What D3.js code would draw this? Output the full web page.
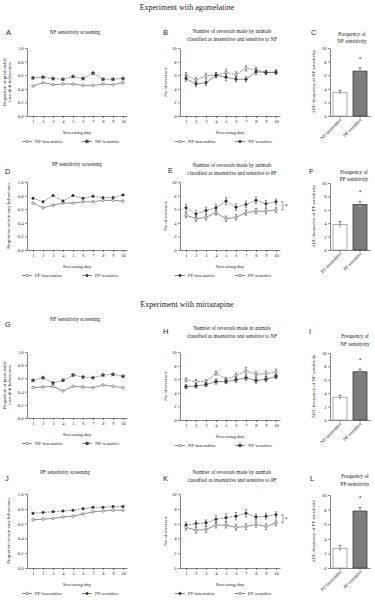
<!DOCTYPE html>
<html>
<head>
<meta charset="utf-8">
<script src="https://cdn.jsdelivr.net/npm/d3@7"></script>
<style>
  body { margin: 0; background: #fff; }
  text { font-family: "Liberation Serif", "DejaVu Serif", serif; fill: #222; }
  .letter { font-family: "Liberation Sans", Arial, sans-serif; font-size: 7.5px; }
  .axis path, .axis line { stroke: #333; stroke-width: 0.6; }
  .axis text { font-size: 4.6px; }
</style>
</head>
<body>
<div id="chart"></div>
<script>
// ---- data ----
const days = [1, 2, 3, 4, 5, 6, 7, 8, 9, 10];

// agomelatine
const agoNfScrInsens = [0.44, 0.49, 0.46, 0.47, 0.47, 0.45, 0.45, 0.47, 0.46, 0.49];
const agoNfScrSens   = [0.56, 0.57, 0.55, 0.54, 0.58, 0.55, 0.63, 0.54, 0.54, 0.55];
const agoNfRevInsens    = [6.0, 5.3, 5.9, 6.0, 6.4, 6.1, 7.0, 6.8, 6.4, 6.5];
const agoNfRevInsensErr = [0.4, 0.4, 0.4, 0.4, 0.5, 0.4, 0.4, 0.4, 0.3, 0.3];
const agoNfRevSens      = [5.5, 4.7, 4.9, 6.0, 5.7, 5.4, 5.4, 6.5, 6.4, 6.4];
const agoNfRevSensErr   = [0.4, 0.4, 0.4, 0.3, 0.5, 0.4, 0.4, 0.4, 0.3, 0.3];
const agoNfAuc    = [3.5, 6.6];
const agoNfAucErr = [0.3, 0.5];

const agoPfScrInsens = [0.69, 0.62, 0.66, 0.69, 0.69, 0.71, 0.71, 0.73, 0.73, 0.72];
const agoPfScrSens   = [0.76, 0.71, 0.80, 0.72, 0.80, 0.76, 0.79, 0.77, 0.77, 0.81];
const agoPfRevInsens    = [6.2, 5.3, 5.8, 6.2, 7.2, 6.3, 6.7, 7.3, 6.8, 7.1];
const agoPfRevInsensErr = [0.5, 0.5, 0.5, 0.5, 0.5, 0.5, 0.5, 0.5, 0.5, 0.4];
const agoPfRevSens      = [5.1, 4.6, 4.8, 5.5, 4.6, 4.8, 5.5, 5.7, 5.7, 5.9];
const agoPfRevSensErr   = [0.4, 0.4, 0.4, 0.4, 0.4, 0.4, 0.4, 0.4, 0.4, 0.4];
const agoPfAuc    = [3.8, 6.8];
const agoPfAucErr = [0.45, 0.45];

// mirtazapine
const mirNfScrInsens = [0.46, 0.47, 0.48, 0.41, 0.48, 0.47, 0.46, 0.50, 0.48, 0.46];
const mirNfScrSens   = [0.57, 0.61, 0.53, 0.57, 0.65, 0.62, 0.61, 0.65, 0.66, 0.63];
const mirNfRevInsens    = [5.9, 5.65, 5.65, 6.9, 6.0, 6.5, 7.25, 6.7, 6.8, 7.1];
const mirNfRevInsensErr = [0.3, 0.3, 0.3, 0.3, 0.3, 0.4, 0.5, 0.4, 0.4, 0.4];
const mirNfRevSens      = [4.9, 5.0, 5.2, 5.65, 5.65, 5.9, 6.2, 5.8, 6.0, 6.4];
const mirNfRevSensErr   = [0.3, 0.3, 0.3, 0.4, 0.3, 0.4, 0.4, 0.4, 0.4, 0.3];
const mirNfAuc    = [3.4, 7.2];
const mirNfAucErr = [0.3, 0.4];

const mirPfScrInsens = [0.65, 0.66, 0.67, 0.69, 0.70, 0.73, 0.76, 0.77, 0.78, 0.78];
const mirPfScrSens   = [0.74, 0.75, 0.76, 0.77, 0.78, 0.80, 0.82, 0.82, 0.83, 0.83];
const mirPfRevInsens    = [5.8, 6.0, 6.1, 6.6, 6.8, 7.0, 7.4, 6.9, 7.0, 7.2];
const mirPfRevInsensErr = [0.4, 0.4, 0.4, 0.5, 0.5, 0.5, 0.5, 0.4, 0.4, 0.4];
const mirPfRevSens      = [5.5, 5.1, 5.2, 5.8, 5.8, 5.5, 5.6, 5.9, 5.6, 6.1];
const mirPfRevSensErr   = [0.4, 0.4, 0.4, 0.4, 0.4, 0.4, 0.4, 0.4, 0.4, 0.4];
const mirPfAuc    = [2.7, 7.8];
const mirPfAucErr = [0.4, 0.5];

const propTicks = [0, 0.2, 0.4, 0.6, 0.8, 1.0];
const revTicks = [0, 2, 4, 6, 8, 10];

// ---- svg ----
const svg = d3.select("#chart").append("svg")
    .attr("width", 375)
    .attr("height", 600);

const ink = "#333";

function styleAxis(sel) {
    sel.attr("class", "axis");
    sel.selectAll("text").attr("fill", "#222");
}

function addText(x, y, str, size, anchor, cls) {
    return svg.append("text")
        .attr("class", cls || null)
        .attr("x", x).attr("y", y)
        .attr("font-size", size)
        .attr("text-anchor", anchor || "middle")
        .text(str);
}

function marker(kind) {
    const types = {open: d3.symbolCircle, dot: d3.symbolCircle, star: d3.symbolStar, cross: d3.symbolCross};
    return d3.symbol().type(types[kind]).size(kind === "star" ? 5 : 5)();
}

// line panel (screening / reversals)
function linePanel(p) {
    const x = d3.scaleLinear().domain([0.4, 10.4]).range([p.left, p.left + 100]);
    const y = d3.scaleLinear().domain([0, p.yMax]).range([p.bottom, p.top]);

    svg.append("g")
        .attr("transform", "translate(0," + p.bottom + ")")
        .call(d3.axisBottom(x).tickValues(days).tickSize(2).tickSizeOuter(0).tickPadding(2))
        .call(styleAxis);
    svg.append("g")
        .attr("transform", "translate(" + p.left + ",0)")
        .call(d3.axisLeft(y).tickValues(p.yTicks).tickFormat(p.fmt).tickSize(2).tickSizeOuter(0).tickPadding(1.5))
        .call(styleAxis);

    addText(p.left + 50, p.bottom + 18, "Screening day", 5);

    // y title
    p.yLabel.forEach((t, i) => {
        svg.append("text")
            .attr("transform", "translate(" + (p.yLabelX + i * 5) + "," + (p.top + p.bottom) / 2 + ") rotate(-90)")
            .attr("font-size", 4.8)
            .attr("text-anchor", "middle")
            .text(t);
    });

    const line = d3.line().x((d, i) => x(days[i])).y(d => y(d));

    p.series.forEach(s => {
        const g = svg.append("g");
        if (s.err) {
            s.values.forEach((v, i) => {
                const cx = x(days[i]);
                g.append("line")
                    .attr("x1", cx).attr("x2", cx)
                    .attr("y1", y(v - s.err[i])).attr("y2", y(v + s.err[i]))
                    .attr("stroke", ink).attr("stroke-width", 0.5);
                [v - s.err[i], v + s.err[i]].forEach(e => {
                    g.append("line")
                        .attr("x1", cx - 1.2).attr("x2", cx + 1.2)
                        .attr("y1", y(e)).attr("y2", y(e))
                        .attr("stroke", ink).attr("stroke-width", 0.5);
                });
            });
        }
        g.append("path")
            .datum(s.values)
            .attr("d", line)
            .attr("fill", "none")
            .attr("stroke", ink)
            .attr("stroke-width", 0.55)
            .attr("stroke-dasharray", s.dash || null);
        g.selectAll(".pt")
            .data(s.values)
            .enter().append("path")
            .attr("transform", (d, i) => "translate(" + x(days[i]) + "," + y(d) + ")")
            .attr("d", marker(s.kind))
            .attr("fill", s.kind === "open" ? "#fff" : ink)
            .attr("stroke", ink)
            .attr("stroke-width", 0.5);
    });

    // legend
    p.series.forEach((s, i) => {
        const lx = p.left - 5 + i * 60;
        const ly = p.bottom + 27;
        svg.append("line")
            .attr("x1", lx).attr("x2", lx + 10)
            .attr("y1", ly - 1.5).attr("y2", ly - 1.5)
            .attr("stroke", ink).attr("stroke-width", 0.6);
        svg.append("path")
            .attr("transform", "translate(" + (lx + 5) + "," + (ly - 1.5) + ")")
            .attr("d", marker(s.kind))
            .attr("fill", s.kind === "open" ? "#fff" : ink)
            .attr("stroke", ink).attr("stroke-width", 0.5);
        addText(lx + 13, ly, s.name, 4.8, "start");
    });

    // significance bracket
    if (p.bracket) {
        const bx = x(10) + 7;
        const y1 = y(p.series[0].values[9]), y2 = y(p.series[1].values[9]);
        svg.append("path")
            .attr("d", "M" + (bx - 2) + "," + y1 + "H" + bx + "V" + y2 + "H" + (bx - 2))
            .attr("fill", "none").attr("stroke", ink).attr("stroke-width", 0.5);
        addText(bx + 3, (y1 + y2) / 2 + 2, "*", 5.5, "middle");
    }
}

// bar panel (AUC frequency)
function barPanel(p) {
    const x = d3.scaleBand().domain(p.cats).range([p.left, p.left + 40]).paddingInner(0.3).paddingOuter(0.15);
    const y = d3.scaleLinear().domain([0, 10]).range([p.bottom, p.top]);

    svg.append("g")
        .attr("transform", "translate(0," + p.bottom + ")")
        .call(d3.axisBottom(x).tickSize(2).tickSizeOuter(0).tickFormat(""))
        .call(styleAxis);
    svg.append("g")
        .attr("transform", "translate(" + p.left + ",0)")
        .call(d3.axisLeft(y).tickValues(revTicks).tickSize(2).tickSizeOuter(0).tickPadding(1.5))
        .call(styleAxis);

    svg.append("text")
        .attr("transform", "translate(" + (p.left - 15) + "," + (p.top + p.bottom) / 2 + ") rotate(-90)")
        .attr("font-size", 4.8)
        .attr("text-anchor", "middle")
        .text(p.yLabel);

    const fills = ["#fff", "#7b7b7b"];
    const strokes = ["#9a9a9a", "#3a3a3a"];
    p.values.forEach((v, i) => {
        const c = p.cats[i];
        const cx = x(c) + x.bandwidth() / 2;
        svg.append("line")
            .attr("x1", cx).attr("x2", cx)
            .attr("y1", y(v + p.err[i])).attr("y2", y(v))
            .attr("stroke", ink).attr("stroke-width", 0.6);
        svg.append("line")
            .attr("x1", cx - 1.5).attr("x2", cx + 1.5)
            .attr("y1", y(v + p.err[i])).attr("y2", y(v + p.err[i]))
            .attr("stroke", ink).attr("stroke-width", 0.6);
        svg.append("rect")
            .attr("x", x(c)).attr("y", y(v))
            .attr("width", x.bandwidth()).attr("height", p.bottom - y(v))
            .attr("fill", fills[i]).attr("stroke", strokes[i]).attr("stroke-width", 0.8);
        svg.append("line")
            .attr("x1", cx).attr("x2", cx)
            .attr("y1", y(v)).attr("y2", y(v - p.err[i]))
            .attr("stroke", i ? "#ccc" : ink).attr("stroke-width", 0.6);
        svg.append("text")
            .attr("transform", "translate(" + (cx + 2) + "," + (p.bottom + 4) + ") rotate(-45)")
            .attr("font-size", 4.8)
            .attr("text-anchor", "end")
            .text(c);
    });
    const sx = x(p.cats[1]) + x.bandwidth() / 2;
    addText(sx, y(p.values[1] + p.err[1]) - 7, "*", 5.5);
}

// ---- Experiment with agomelatine ----
addText(187, 10, "Experiment with agomelatine", 8);

// row 1
addText(6, 35, "A", 7.5, "start", "letter");
addText(75, 34, "NF sensitivity screening", 5.2);
linePanel({
    left: 27, top: 48, bottom: 116, yMax: 1, yTicks: propTicks, fmt: d3.format(".1f"),
    yLabel: ["Proportion of predictable", "loss-shift behaviours"], yLabelX: 6,
    series: [
        {name: "NF-insensitive", values: agoNfScrInsens, kind: "open"},
        {name: "NF-sensitive", values: agoNfScrSens, kind: "star", dash: "2,1"}
    ]
});

addText(163, 35, "B", 7.5, "start", "letter");
addText(232, 33, "Number of reversals made by animals", 5.2);
addText(232, 41, "classified as insensitive and sensitive to NF", 5.2);
linePanel({
    left: 180, top: 48, bottom: 116, yMax: 10, yTicks: revTicks, fmt: d3.format("d"),
    yLabel: ["No of reversals"], yLabelX: 167,
    series: [
        {name: "NF-insensitive", values: agoNfRevInsens, err: agoNfRevInsensErr, kind: "open", dash: "2,1"},
        {name: "NF-sensitive", values: agoNfRevSens, err: agoNfRevSensErr, kind: "dot"}
    ]
});

addText(311, 35, "C", 7.5, "start", "letter");
addText(352, 36, "Frequency of", 5.2);
addText(352, 43, "NF sensitivity", 5.2);
barPanel({
    left: 330, top: 48, bottom: 116, cats: ["NF-insensitive", "NF-sensitive"],
    values: agoNfAuc, err: agoNfAucErr, yLabel: "AUC frequency of NF sensitivity"
});

// row 2
addText(5, 174, "D", 7.5, "start", "letter");
addText(77, 166, "PF sensitivity screening", 5.2);
linePanel({
    left: 27, top: 182, bottom: 250, yMax: 1, yTicks: propTicks, fmt: d3.format(".1f"),
    yLabel: ["Proportion of win-stay behaviours"], yLabelX: 10,
    series: [
        {name: "PF-insensitive", values: agoPfScrInsens, kind: "open"},
        {name: "PF-sensitive", values: agoPfScrSens, kind: "dot", dash: "2,1"}
    ]
});

addText(168, 173, "E", 7.5, "start", "letter");
addText(232, 167, "Number of reversals made by animals", 5.2);
addText(232, 175, "classified as insensitive and sensitive to PF", 5.2);
linePanel({
    left: 180, top: 182, bottom: 250, yMax: 10, yTicks: revTicks, fmt: d3.format("d"),
    yLabel: ["No of reversals"], yLabelX: 167, bracket: true,
    series: [
        {name: "PF-insensitive", values: agoPfRevInsens, err: agoPfRevInsensErr, kind: "dot", dash: "2,1"},
        {name: "PF-sensitive", values: agoPfRevSens, err: agoPfRevSensErr, kind: "open"}
    ]
});

addText(309, 174, "F", 7.5, "start", "letter");
addText(354, 174, "Frequency of", 5.2);
addText(354, 181, "PF sensitivity", 5.2);
barPanel({
    left: 330, top: 183, bottom: 250, cats: ["PF-insensitive", "PF-sensitive"],
    values: agoPfAuc, err: agoPfAucErr, yLabel: "AUC frequency of PF sensitivity"
});

// ---- Experiment with mirtazapine ----
addText(187, 307, "Experiment with mirtazapine", 8);

// row 3
addText(5, 327, "G", 7.5, "start", "letter");
addText(75, 321, "NF sensitivity screening", 5.2);
linePanel({
    left: 27, top: 352, bottom: 418, yMax: 1, yTicks: propTicks, fmt: d3.format(".1f"),
    yLabel: ["Proportion of predictable", "loss-shift behaviours"], yLabelX: 6,
    series: [
        {name: "NF-insensitive", values: mirNfScrInsens, kind: "open"},
        {name: "NF-sensitive", values: mirNfScrSens, kind: "star", dash: "2,1"}
    ]
});

addText(163, 334, "H", 7.5, "start", "letter");
addText(232, 330, "Number of reversals made in animals", 5.2);
addText(232, 338, "classified as insensitive and sensitive to NF", 5.2);
linePanel({
    left: 180, top: 352, bottom: 420, yMax: 10, yTicks: revTicks, fmt: d3.format("d"),
    yLabel: ["No of reversals"], yLabelX: 167,
    series: [
        {name: "NF-insensitive", values: mirNfRevInsens, err: mirNfRevInsensErr, kind: "open", dash: "2,1"},
        {name: "NF-sensitive", values: mirNfRevSens, err: mirNfRevSensErr, kind: "star"}
    ]
});

addText(309, 334, "I", 7.5, "start", "letter");
addText(355, 338, "Frequency of", 5.2);
addText(355, 346, "NF sensitivity", 5.2);
barPanel({
    left: 330, top: 353, bottom: 420, cats: ["NF-insensitive", "NF-sensitive"],
    values: mirNfAuc, err: mirNfAucErr, yLabel: "AUC frequency of NF sensitivity"
});

// row 4
addText(5, 481, "J", 7.5, "start", "letter");
addText(65, 474, "PF sensitivity screening", 5.2);
linePanel({
    left: 27, top: 494, bottom: 568, yMax: 1, yTicks: propTicks, fmt: d3.format(".1f"),
    yLabel: ["Proportion of win-stay behaviours"], yLabelX: 10,
    series: [
        {name: "PF-insensitive", values: mirPfScrInsens, kind: "open"},
        {name: "PF-sensitive", values: mirPfScrSens, kind: "dot", dash: "2,1"}
    ]
});

addText(163, 481, "K", 7.5, "start", "letter");
addText(232, 474, "Number of reversals made by animals", 5.2);
addText(232, 482, "classified as insensitive and sensitive to PF", 5.2);
linePanel({
    left: 180, top: 494, bottom: 568, yMax: 10, yTicks: revTicks, fmt: d3.format("d"),
    yLabel: ["No of reversals"], yLabelX: 167, bracket: true,
    series: [
        {name: "PF-insensitive", values: mirPfRevInsens, err: mirPfRevInsensErr, kind: "dot", dash: "2,1"},
        {name: "PF-sensitive", values: mirPfRevSens, err: mirPfRevSensErr, kind: "open"}
    ]
});

addText(310, 481, "L", 7.5, "start", "letter");
addText(355, 478, "Frequency of", 5.2);
addText(355, 486, "PF-sensitivity", 5.2);
barPanel({
    left: 330, top: 495, bottom: 568, cats: ["PF-insensitive", "PF-sensitive"],
    values: mirPfAuc, err: mirPfAucErr, yLabel: "AUC frequency of PF sensitivity"
});
</script>
</body>
</html>
